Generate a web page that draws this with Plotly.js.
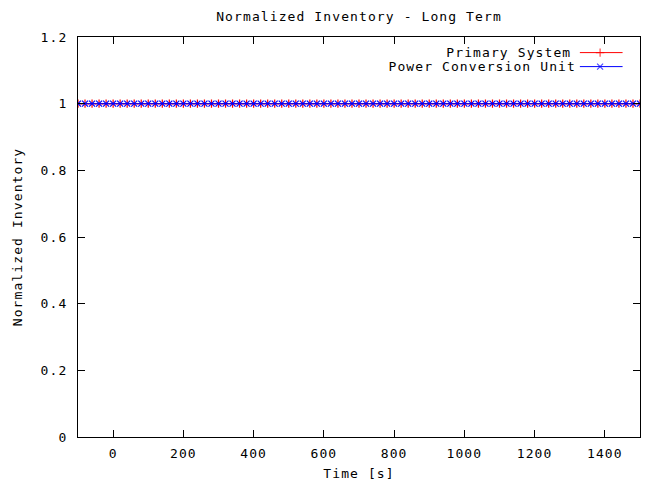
<!DOCTYPE html>
<html>
<head>
<meta charset="utf-8">
<script src="https://cdn.plot.ly/plotly-3.0.1.min.js"></script>
<style>
  html, body { margin: 0; padding: 0; background: #fff; }
  #chart { width: 652px; height: 485px; }
  #chart .main-svg text { letter-spacing: 1.1px; }
</style>
</head>
<body>
<div id="chart"></div>
<script>
// Time samples [s]
const timeSec = [
  -100, -80, -60, -40, -20, 0, 20, 40, 60, 80,
  100, 120, 140, 160, 180, 200, 220, 240, 260, 280,
  300, 320, 340, 360, 380, 400, 420, 440, 460, 480,
  500, 520, 540, 560, 580, 600, 620, 640, 660, 680,
  700, 720, 740, 760, 780, 800, 820, 840, 860, 880,
  900, 920, 940, 960, 980, 1000, 1020, 1040, 1060, 1080,
  1100, 1120, 1140, 1160, 1180, 1200, 1220, 1240, 1260, 1280,
  1300, 1320, 1340, 1360, 1380, 1400, 1420, 1440, 1460, 1480,
  1500
];

// Normalized inventory of each loop
const primarySystem = [
  1, 1, 1, 1, 1, 1, 1, 1, 1, 1,
  1, 1, 1, 1, 1, 1, 1, 1, 1, 1,
  1, 1, 1, 1, 1, 1, 1, 1, 1, 1,
  1, 1, 1, 1, 1, 1, 1, 1, 1, 1,
  1, 1, 1, 1, 1, 1, 1, 1, 1, 1,
  1, 1, 1, 1, 1, 1, 1, 1, 1, 1,
  1, 1, 1, 1, 1, 1, 1, 1, 1, 1,
  1, 1, 1, 1, 1, 1, 1, 1, 1, 1,
  1
];
const powerConversionUnit = [
  1, 1, 1, 1, 1, 1, 1, 1, 1, 1,
  1, 1, 1, 1, 1, 1, 1, 1, 1, 1,
  1, 1, 1, 1, 1, 1, 1, 1, 1, 1,
  1, 1, 1, 1, 1, 1, 1, 1, 1, 1,
  1, 1, 1, 1, 1, 1, 1, 1, 1, 1,
  1, 1, 1, 1, 1, 1, 1, 1, 1, 1,
  1, 1, 1, 1, 1, 1, 1, 1, 1, 1,
  1, 1, 1, 1, 1, 1, 1, 1, 1, 1,
  1
];

const seriesNames = ['Primary System', 'Power Conversion Unit'];
const seriesColors = ['#ff0000', '#0000ff'];
const seriesSymbols = ['cross-thin', 'x-thin'];

const xTicks = [0, 200, 400, 600, 800, 1000, 1200, 1400];
const yTicks = [0, 0.2, 0.4, 0.6, 0.8, 1, 1.2];

const FONT = 'DejaVu Sans Mono, Liberation Mono, monospace';

function seriesTrace(i, y) {
  return {
    type: 'scatter',
    mode: 'lines+markers',
    name: seriesNames[i],
    x: timeSec,
    y: y,
    line: { color: seriesColors[i], width: 1 },
    marker: {
      symbol: seriesSymbols[i],
      size: 6,
      color: seriesColors[i],
      line: { color: seriesColors[i], width: 1.2 }
    },
    showlegend: false,
    cliponaxis: true
  };
}

// Key samples drawn on an overlay paper-like axis: line with a marker in the middle
const keyX = [0.893, 0.929, 0.969];
const keyY = [0.961, 0.926];
function keyTrace(i) {
  return {
    type: 'scatter',
    mode: 'lines+markers',
    x: keyX,
    y: [keyY[i], keyY[i], keyY[i]],
    xaxis: 'x2',
    yaxis: 'y2',
    line: { color: seriesColors[i], width: 1 },
    marker: {
      symbol: seriesSymbols[i],
      size: [0, 6, 0],
      color: seriesColors[i],
      line: { color: seriesColors[i], width: 1.2 }
    },
    showlegend: false,
    hoverinfo: 'skip'
  };
}

const data = [
  seriesTrace(0, primarySystem),
  seriesTrace(1, powerConversionUnit),
  keyTrace(0),
  keyTrace(1)
];

const axisCommon = {
  showline: true,
  linecolor: '#000',
  linewidth: 1,
  mirror: 'allticks',
  ticks: 'inside',
  ticklen: 7,
  tickcolor: '#000',
  tickwidth: 1,
  showgrid: false,
  zeroline: false,
  tickfont: { family: FONT, size: 13, color: '#000' }
};

const layout = {
  width: 652,
  height: 485,
  margin: { l: 78, r: 12, t: 37, b: 48 },
  paper_bgcolor: '#fff',
  plot_bgcolor: '#fff',
  font: { family: FONT, size: 13, color: '#000' },
  title: {
    text: 'Normalized Inventory - Long Term',
    font: { family: FONT, size: 13, color: '#000' },
    x: 0.5,
    xref: 'paper',
    xanchor: 'center',
    y: 0.967,
    yref: 'container',
    yanchor: 'middle'
  },
  xaxis: Object.assign({}, axisCommon, {
    range: [-100, 1500],
    tickmode: 'array',
    tickvals: xTicks,
    ticktext: xTicks.map(String),
    ticklabelstandoff: 4,
    title: { text: 'Time [s]', font: { family: FONT, size: 13, color: '#000' }, standoff: 9 }
  }),
  yaxis: Object.assign({}, axisCommon, {
    range: [0, 1.2],
    tickmode: 'array',
    tickvals: yTicks,
    ticktext: yTicks.map(String),
    ticklabelstandoff: 7,
    title: { text: 'Normalized Inventory', font: { family: FONT, size: 13, color: '#000' }, standoff: 18 }
  }),
  xaxis2: { overlaying: 'x', range: [0, 1], visible: false, fixedrange: true },
  yaxis2: { overlaying: 'y', range: [0, 1], visible: false, fixedrange: true },
  annotations: [
    {
      text: seriesNames[0], xref: 'paper', yref: 'paper',
      x: 0.868, y: keyY[0], xanchor: 'right', yanchor: 'middle',
      showarrow: false, font: { family: FONT, size: 13, color: '#000' }
    },
    {
      text: seriesNames[1], xref: 'paper', yref: 'paper',
      x: 0.868, y: keyY[1], xanchor: 'right', yanchor: 'middle',
      showarrow: false, font: { family: FONT, size: 13, color: '#000' }
    }
  ],
  showlegend: false
};

Plotly.newPlot('chart', data, layout, { staticPlot: true, displayModeBar: false });
</script>
</body>
</html>
